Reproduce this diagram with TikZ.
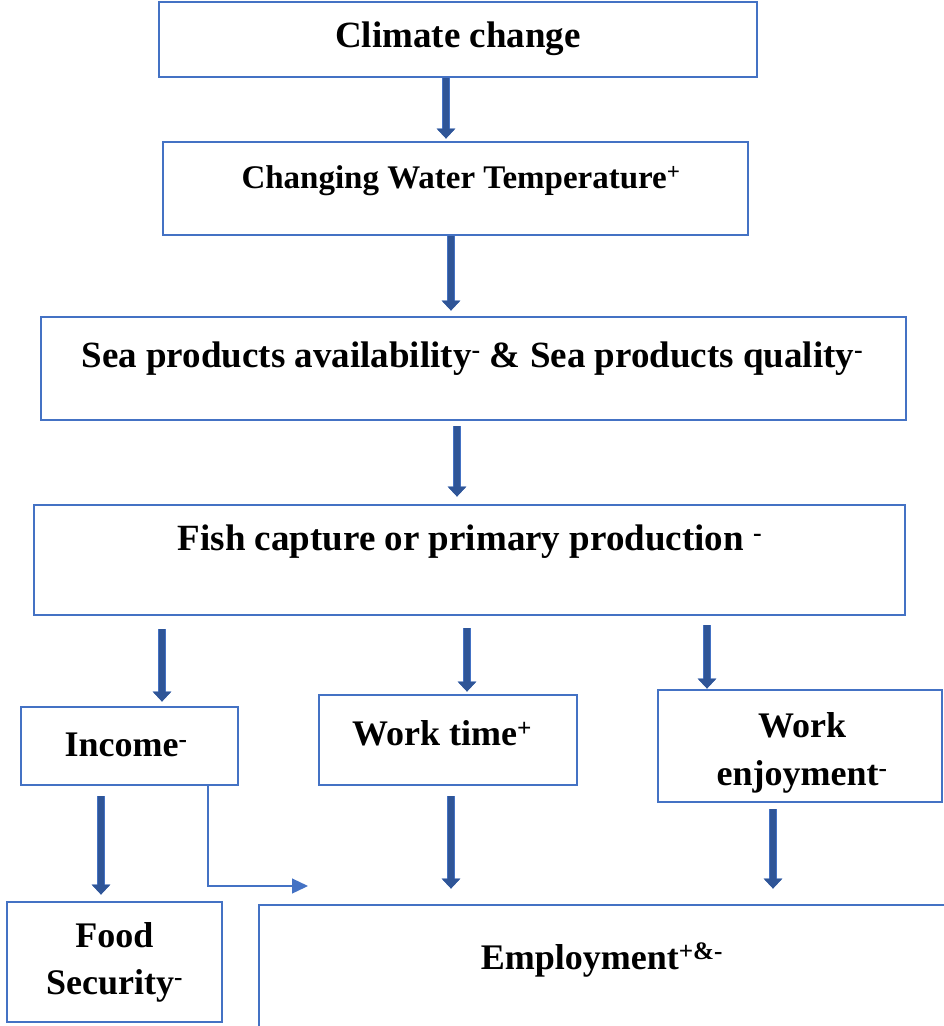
\documentclass[tikz,border=0pt]{standalone}
\usepackage{fontspec}
\setmainfont{Liberation Serif}
\usetikzlibrary{arrows.meta}
\definecolor{boxblue}{HTML}{4472C4}
\definecolor{arrowblue}{HTML}{2F5597}
\tikzset{
	blk/.style={draw=boxblue, line width=2.8pt, rectangle, inner sep=0pt},
	txt/.style={font=\bfseries\fontsize{37}{44}\selectfont, inner sep=0pt, align=center},
	fat/.style={arrowblue, line width=5.5pt, -{Triangle[width=18pt,length=10pt]},
		preaction={draw=boxblue, line width=8pt}},
	thinarrow/.style={boxblue, line width=1.3pt, -{Triangle[width=15pt,length=16pt]}}
}
\begin{document}
\begin{tikzpicture}[x=1pt,y=-1pt]
		\useasboundingbox (0,0) rectangle (944,1026);
		% boxes
		\node[blk, minimum width=598, minimum height=75] (clim) at (458,39.5) {};
		\node[blk, minimum width=585, minimum height=93] (water) at (455.5,188.5) {};
		\node[blk, minimum width=865, minimum height=103] (sea) at (473.5,368.5) {};
		\node[blk, minimum width=871, minimum height=110] (fish) at (469.5,560) {};
		\node[blk, minimum width=217, minimum height=78] (inc) at (129.5,746) {};
		\node[blk, minimum width=258, minimum height=90] (wtime) at (448,740) {};
		\node[blk, minimum width=284, minimum height=112] (wjoy) at (800,746) {};
		\node[blk, minimum width=215, minimum height=120] (food) at (114.5,962) {};
		\node[blk, minimum width=701, minimum height=140] (emp) at (609.5,975) {};
		% texts
		\node[txt] (clim-t) at (458,39) {Climate change};
		\node[txt, font=\bfseries\fontsize{33}{38}\selectfont] (water-t) at (461,180.5) {Changing Water Temperature\textsuperscript{+}};
		\node[txt] (sea-t) at (472.5,358.5) {Sea products availability\textsuperscript{-} \& Sea products quality\textsuperscript{-}};
		\node[txt] (fish-t) at (470,541.5) {Fish capture or primary production \textsuperscript{-}};
		\node[txt, font=\bfseries\fontsize{36}{38}\selectfont] (inc-t) at (126,745) {Income\textsuperscript{-}};
		\node[txt, font=\bfseries\fontsize{36}{38}\selectfont] (wtime-t) at (442,733) {Work time\textsuperscript{+}};
		\node[txt, font=\bfseries\fontsize{36}{48}\selectfont] (wjoy-t) at (802,753) {Work\\enjoyment\textsuperscript{-}};
		\node[txt, font=\bfseries\fontsize{36}{47}\selectfont] (food-t) at (114.5,962) {Food\\Security\textsuperscript{-}};
		\node[txt, font=\bfseries\fontsize{36}{38}\selectfont] (emp-t) at (602,960) {Employment\textsuperscript{+\&-}};
		% arrows
		\draw[fat, shorten >=2pt] ([xshift=-12pt]clim.south) -- ([xshift=-12pt]clim.south |- water.north);
		\draw[fat, shorten >=5pt] ([xshift=-4.5pt]water.south) -- ([xshift=-4.5pt]water.south |- sea.north);
		\draw[fat, shorten <=5pt, shorten >=7pt] ([xshift=-16.5pt]sea.south) -- ([xshift=-16.5pt]sea.south |- fish.north);
		\draw[fat, shorten <=13pt, shorten >=4pt] (inc.north |- fish.south) ++(32.5,0) coordinate (inc-a) -- (inc-a |- inc.north);
		\draw[fat, shorten <=12pt, shorten >=2pt] ([xshift=19pt]wtime.north |- fish.south) -- ([xshift=19pt]wtime.north);
		\draw[fat, shorten <=9pt] ([xshift=-93pt]wjoy.north |- fish.south) -- ([xshift=-93pt]wjoy.north);
		\draw[fat, shorten <=10pt, shorten >=6pt] ([xshift=-28.5pt]inc.south) -- ([xshift=-28.5pt]inc.south |- food.north);
		\draw[fat, shorten <=10pt, shorten >=15pt] ([xshift=3pt]wtime.south) -- ([xshift=3pt]wtime.south |- emp.north);
		\draw[fat, shorten <=6pt, shorten >=15pt] ([xshift=-27pt]wjoy.south) -- ([xshift=-27pt]wjoy.south |- emp.north);
		\coordinate (emp-in) at (308,886);
		\draw[thinarrow] ([xshift=78.5pt]inc.south) |- (emp-in);
	\end{tikzpicture}
\end{document}
